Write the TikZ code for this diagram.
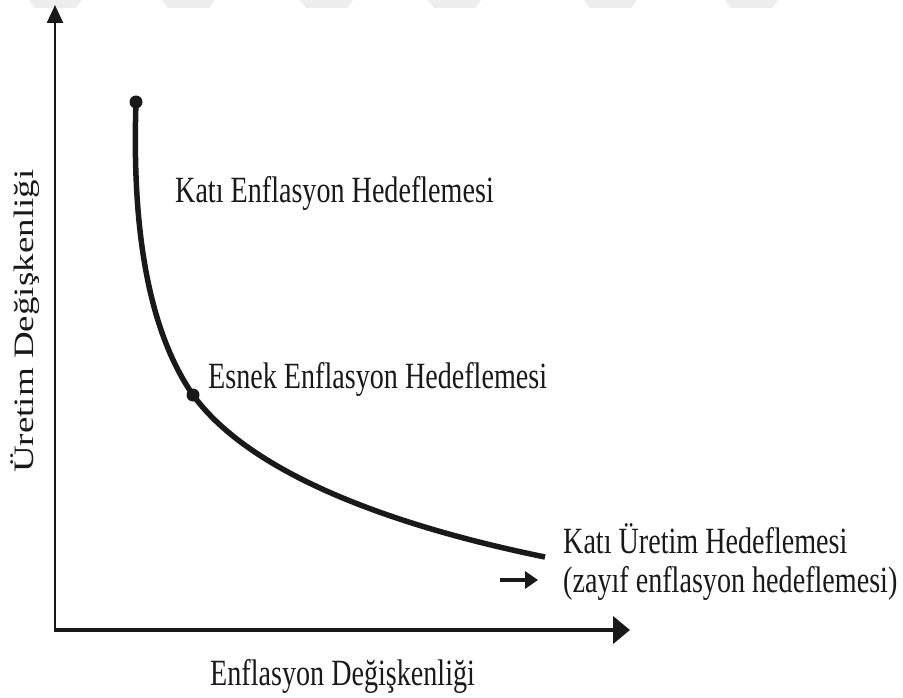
\documentclass[tikz,border=0pt]{standalone}
\usepackage{fontspec}
\setmainfont{Liberation Serif}[FakeStretch=0.76]
\newfontfamily\plainserif{Liberation Serif}
\usetikzlibrary{arrows.meta}

\begin{document}
\begin{tikzpicture}
   [x=1pt,y=-1pt,
    axis/.style={draw=black!90,line cap=butt},
    curvedot/.style={circle,fill=black!90,inner sep=0pt,minimum size=13pt},
    lbl/.style={anchor=base west,inner sep=0pt,text=black!90,
                font=\fontsize{37}{44}\selectfont}]
   \useasboundingbox (0,0) rectangle (903,698);

   % faint stripes along the top edge
   \foreach \s in {29,162,300,428,584,725}
      \fill[black!7] (\s,0) -- (\s+53,0) -- (\s+47,8) -- (\s+6,8) -- cycle;

   \coordinate (O) at (55,630);
   \coordinate (ytop) at (55,5);
   \coordinate (xend) at (630,630);
   \draw[axis,line width=2.5pt,-{Triangle[length=18pt,width=16pt]}] (O) -- (ytop);
   \draw[axis,line width=4.5pt,-{Triangle[length=17pt,width=27pt]}] ([xshift=-1.25pt]O) -- (xend);

   \node[curvedot] (katidot) at (136,102) {};
   \node[curvedot] (esnekdot) at (193,395) {};
   \coordinate (curveend) at (545,557);
   \draw[line width=5.5pt,black!90]
      (katidot.center) .. controls (131,250) and (155,340) .. (esnekdot.center)
      .. controls (252,476) and (398,527) .. (curveend);

   \node[lbl] (kati) at (175,203) {Katı Enflasyon Hedeflemesi};
   \node[lbl] (esnek) at (208,388) {Esnek Enflasyon Hedeflemesi};
   \node[lbl] (uretim) at (563,553) {Katı Üretim Hedeflemesi};
   \node[lbl] (zayif) at (563,592) {(zayıf enflasyon hedeflemesi)};

   \coordinate (oktail) at (500,580);
   \coordinate (okhead) at (538,580);
   \draw[line width=4pt,black!90,-{Triangle[length=13pt,width=17pt]}] (oktail) -- (okhead);

   \node[lbl] (xlabel) at (210,685) {Enflasyon Değişkenliği};
   \node[lbl,rotate=90] (ylabel) at (33,473)
      {\plainserif\scalebox{1}[0.76]{Üretim Değişkenliği}};
\end{tikzpicture}
\end{document}
